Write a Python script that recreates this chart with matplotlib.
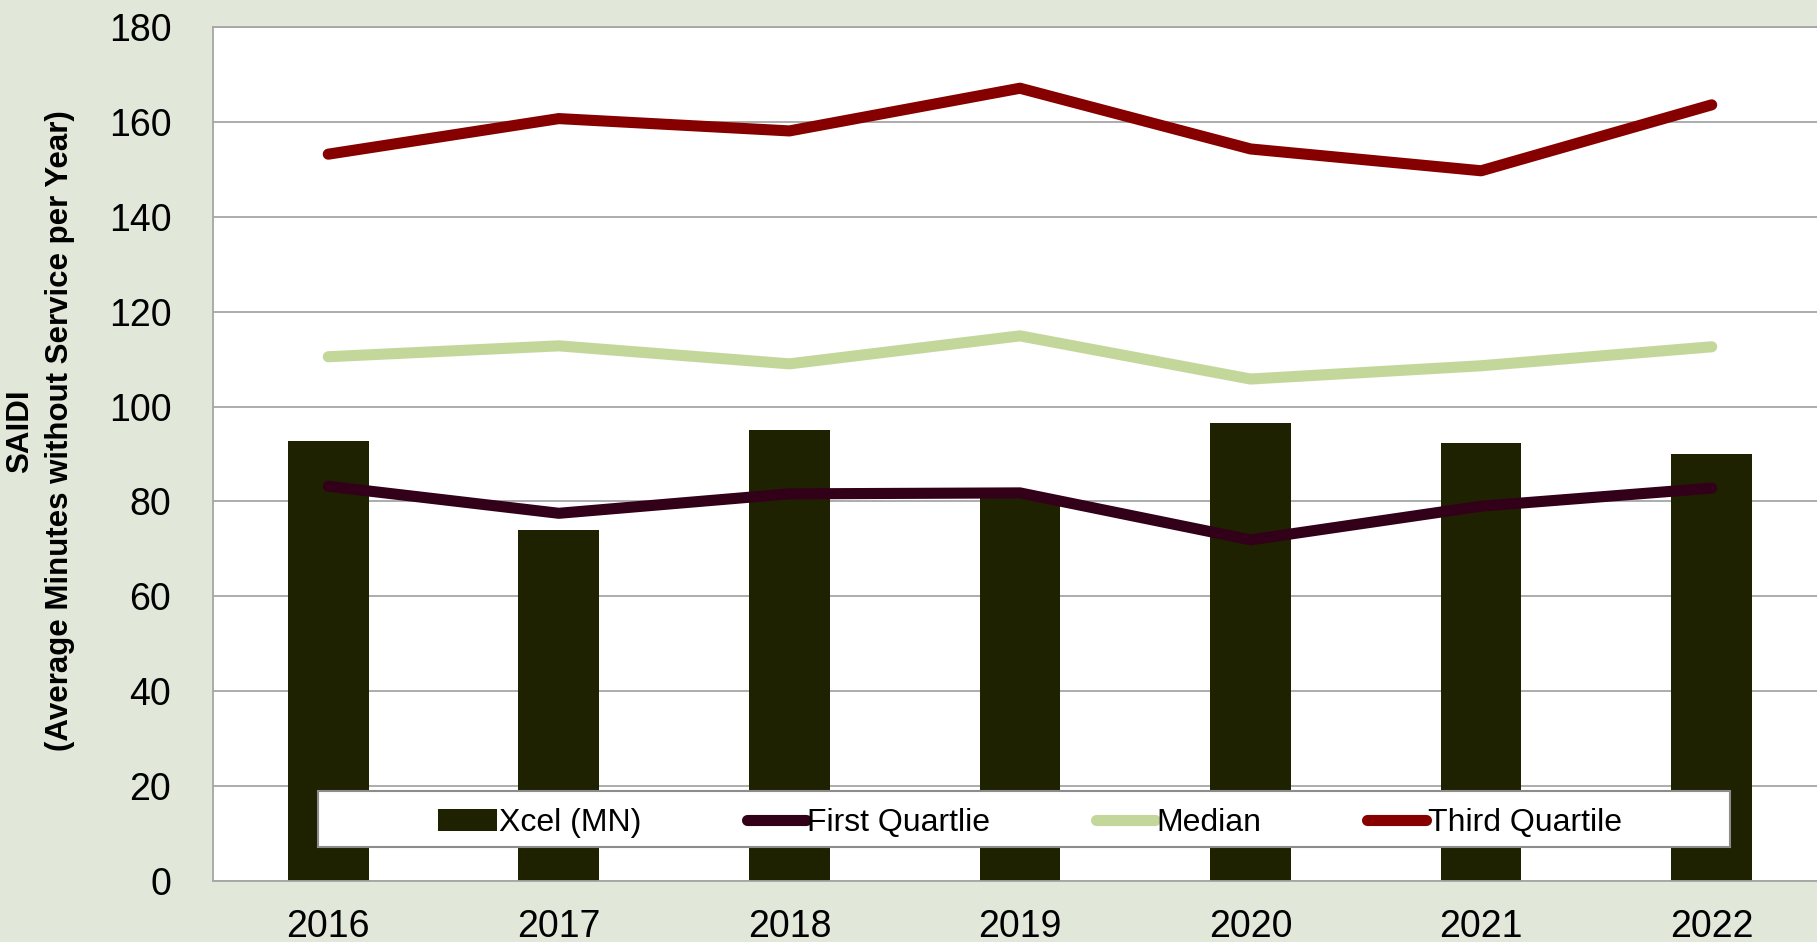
import matplotlib
matplotlib.use("Agg")
import matplotlib.pyplot as plt
from matplotlib.patches import Rectangle

# values
years = ["2016", "2017", "2018", "2019", "2020", "2021", "2022"]
xcel_mn = [92.7, 73.9, 95.0, 80.7, 96.6, 92.3, 90.1]
first_quartile = [83.2, 77.5, 81.6, 81.8, 71.9, 79.0, 82.8]
median = [110.5, 112.8, 109.0, 114.9, 105.8, 108.6, 112.6]
third_quartile = [153.2, 160.7, 158.1, 167.1, 154.3, 149.7, 163.6]
yticks = [0, 20, 40, 60, 80, 100, 120, 140, 160, 180]

plt.rcParams['font.family'] = ['Liberation Sans', 'DejaVu Sans']

fig = plt.figure(figsize=(18.17, 9.42), dpi=100, facecolor='#E1E7D9')
ax = fig.add_axes([0.1172, 0.0648, 0.8883, 0.9065])
ax.set_facecolor('white')

x = list(range(len(years)))
bars = ax.bar(x, xcel_mn, width=0.35, color='#1F2200', label='Xcel (MN)', zorder=2)
l1, = ax.plot(x, first_quartile, color='#33001A', lw=8, solid_capstyle='round',
              label='First Quartlie', zorder=3)
l2, = ax.plot(x, median, color='#C4D79B', lw=8, solid_capstyle='round',
              label='Median', zorder=3)
l3, = ax.plot(x, third_quartile, color='#870000', lw=8, solid_capstyle='round',
              label='Third Quartile', zorder=3)

ax.set_xlim(-0.5, len(years) - 0.5)
ax.set_ylim(0, 180)
ax.set_yticks(yticks)
ax.set_xticks(x)
ax.set_xticklabels(years)
ax.tick_params(axis='both', length=0, labelsize=27)
ax.tick_params(axis='y', pad=30)
ax.tick_params(axis='x', pad=20)
ax.yaxis.grid(True, color='#A6A6A6', lw=1.3)
ax.set_axisbelow(True)
for side in ['left', 'bottom', 'top']:
    ax.spines[side].set_color('#A6A6A6')
    ax.spines[side].set_linewidth(1.3)
ax.spines['right'].set_visible(False)

fig.text(0.022, 0.5425, 'SAIDI\n(Average Minutes without Service per Year)',
         rotation=90, ha='center', va='center', fontsize=22.5,
         fontweight='bold', linespacing=1.45)

# legend box
box = Rectangle((318 / 1817, 1 - 847 / 942), (1730 - 318) / 1817, 56 / 942,
                transform=fig.transFigure, facecolor='white',
                edgecolor='#8C8C8C', lw=1.5, zorder=4)
ax.add_artist(box)
box.set_clip_on(False)
leg = ax.legend([bars, l1, l2, l3],
                ['Xcel (MN)', 'First Quartlie', 'Median', 'Third Quartile'],
                loc='center', bbox_to_anchor=(1030 / 1817, 1 - 823 / 942),
                bbox_transform=fig.transFigure, ncol=4, frameon=False,
                fontsize=23, handlelength=1.85, handletextpad=0.05,
                columnspacing=3.3)
leg.set_zorder(5)

fig.savefig('out.png', dpi=100, facecolor=fig.get_facecolor())
